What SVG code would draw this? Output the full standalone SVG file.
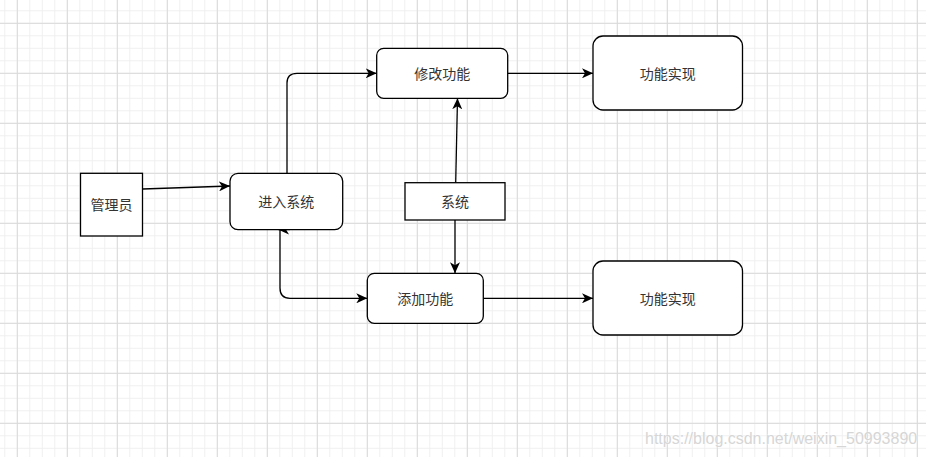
<svg xmlns="http://www.w3.org/2000/svg" width="926" height="457" viewBox="0 0 926 457">
  <style>
    .box { fill: #ffffff; stroke: #000000; stroke-width: 1.3; }
    .lbl { font-family: "Noto Sans CJK SC", "Microsoft YaHei", sans-serif; font-size: 14px; fill: #333333; text-anchor: middle; dominant-baseline: central; }
    .edge { fill: none; stroke: #000000; stroke-width: 1.3; }
    .wm { font-family: "Liberation Sans", Arial, sans-serif; font-size: 16px; fill: #d6d6d6; stroke: #ffffff; stroke-width: 0.6; paint-order: stroke; }
  </style>
  <defs>
    <pattern id="minor" patternUnits="userSpaceOnUse" x="16.8" y="22.8" width="12.5" height="12.5">
      <path d="M0.5 0 V12.5 M0 0.5 H12.5" stroke="#efefef" stroke-width="1" fill="none"/>
    </pattern>
    <pattern id="major" patternUnits="userSpaceOnUse" x="16.8" y="22.8" width="50" height="50">
      <path d="M0.5 0 V50 M0 0.5 H50" stroke="#d9d9d9" stroke-width="1" fill="none"/>
    </pattern>
    <marker id="arr" markerWidth="12" markerHeight="10" refX="11" refY="5" orient="auto" markerUnits="userSpaceOnUse">
      <path d="M0,0 L11,5 L0,10 L3,5 Z" fill="#000000"/>
    </marker>
  </defs>
  <rect width="926" height="457" fill="#ffffff"/>
  <rect width="926" height="457" fill="url(#minor)"/>
  <rect width="926" height="457" fill="url(#major)"/>

  <g id="connectors">
    <path class="edge" d="M142.7 189 L230 186" marker-end="url(#arr)"/>
    <path class="edge" d="M287 173.3 V83 Q287 73.3 297 73.3 H376.7" marker-end="url(#arr)"/>
    <path class="edge" d="M507.7 73.3 H593" marker-end="url(#arr)"/>
    <path class="edge" d="M455.7 182.7 L457.5 98.3" marker-end="url(#arr)"/>
    <path class="edge" d="M455 220 V273.3" marker-end="url(#arr)"/>
    <path class="edge" d="M290 229.5 H278" marker-end="url(#arr)"/>
    <path class="edge" d="M280 229.5 V288 Q280 298.3 290 298.3 H367.3" marker-end="url(#arr)"/>
    <path class="edge" d="M483.3 298.3 H593" marker-end="url(#arr)"/>
  </g>

  <g id="admin">
    <rect class="box" x="80.5" y="173.3" width="62" height="62.7"/>
    <text class="lbl" x="111.5" y="204">管理员</text>
  </g>
  <g id="enter">
    <rect class="box" x="230" y="173.3" width="112.7" height="56.4" rx="8" ry="8"/>
    <text class="lbl" x="286.3" y="201">进入系统</text>
  </g>
  <g id="modify">
    <rect class="box" x="376.7" y="48.3" width="131" height="50" rx="7" ry="7"/>
    <text class="lbl" x="442.2" y="72.5">修改功能</text>
  </g>
  <g id="system">
    <rect class="box" x="405" y="182.7" width="100" height="37.3"/>
    <text class="lbl" x="455" y="201">系统</text>
  </g>
  <g id="add">
    <rect class="box" x="367.3" y="273.3" width="116" height="50" rx="7" ry="7"/>
    <text class="lbl" x="425.3" y="297.5">添加功能</text>
  </g>
  <g id="impl1">
    <rect class="box" x="593" y="36" width="149.5" height="74" rx="10" ry="10"/>
    <text class="lbl" x="667.7" y="72.5">功能实现</text>
  </g>
  <g id="impl2">
    <rect class="box" x="593" y="261" width="149.5" height="74" rx="10" ry="10"/>
    <text class="lbl" x="667.7" y="297.5">功能实现</text>
  </g>

  <text class="wm" x="645" y="444">https://blog.csdn.net/weixin_50993890</text>
</svg>
